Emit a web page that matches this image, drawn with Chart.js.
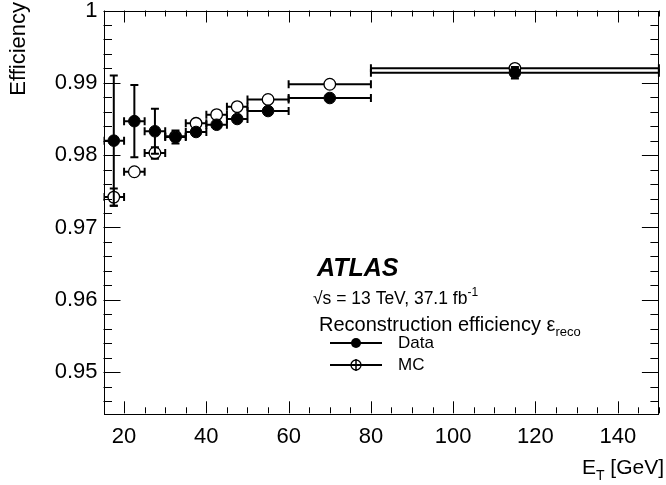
<!DOCTYPE html>
<html>
<head>
<meta charset="utf-8">
<script src="https://cdn.jsdelivr.net/npm/chart.js@4.4.1/dist/chart.umd.min.js"></script>
<style>
  html, body { margin: 0; padding: 0; background: #fff; }
  #wrap { width: 666px; height: 485px; position: relative; }
</style>
</head>
<body>
<div id="wrap"><canvas id="c" width="666" height="485"></canvas></div>
<script>
// ---- data ----
const binLow   = [15, 20, 25, 30, 35, 40, 45, 50, 60, 80];
const binHigh  = [20, 25, 30, 35, 40, 45, 50, 60, 80, 150];
const binCenter = [17.5, 22.5, 27.5, 32.5, 37.5, 42.5, 47.5, 55, 70, 115];
const dataEff  = [0.9820, 0.9847, 0.9833, 0.9825, 0.9832, 0.9842, 0.9850, 0.9861, 0.9879, 0.9914];
const dataErr  = [0.0090, 0.0050, 0.0031, 0.0009, 0.0005, 0.0005, 0.0005, 0.0005, 0.0005, 0.0008];
const mcEff    = [0.9742, 0.9777, 0.9803, 0.9826, 0.9844, 0.9856, 0.9867, 0.9877, 0.9898, 0.9920];
const mcErr    = [0.0012, 0.0003, 0.0008, 0.0003, 0.0002, 0.0002, 0.0002, 0.0002, 0.0002, 0.0004];
const yTickValues = [0.95, 0.96, 0.97, 0.98, 0.99, 1.0];
const xTickValues = [20, 40, 60, 80, 100, 120, 140];
const yMin = 0.9443, yMax = 1.0, xMin = 15, xMax = 150;

const FONT = "'Liberation Sans', Arial, Helvetica, sans-serif";

const toPoints = (ys) => binCenter.map((x, i) => ({ x: x, y: ys[i] }));

const errorBarPlugin = {
  id: 'errbars',
  beforeDatasetsDraw(chart) {
    const ctx = chart.ctx, xs = chart.scales.x, ys = chart.scales.y, a = chart.chartArea;
    ctx.save();
    ctx.beginPath();
    ctx.rect(a.left, a.top - 1, a.right - a.left + 2, a.bottom - a.top + 2);
    ctx.clip();
    ctx.strokeStyle = '#000';
    ctx.lineWidth = 2;
    const sets = [
      { eff: mcEff, err: mcErr, r: 5.5 },
      { eff: dataEff, err: dataErr, r: 5.5 }
    ];
    sets.forEach(s => {
      binCenter.forEach((c, i) => {
        const px = xs.getPixelForValue(c);
        const py = ys.getPixelForValue(s.eff[i]);
        const xl = xs.getPixelForValue(binLow[i]);
        const xh = xs.getPixelForValue(binHigh[i]);
        const yu = ys.getPixelForValue(s.eff[i] + s.err[i]);
        const yd = ys.getPixelForValue(s.eff[i] - s.err[i]);
        ctx.beginPath();
        ctx.moveTo(xl, py); ctx.lineTo(px - s.r, py);
        ctx.moveTo(px + s.r, py); ctx.lineTo(xh, py);
        ctx.moveTo(xl, py - 4); ctx.lineTo(xl, py + 4);
        ctx.moveTo(xh, py - 4); ctx.lineTo(xh, py + 4);
        ctx.stroke();
        if (py - yu > s.r) {
          ctx.beginPath();
          ctx.moveTo(px, py - s.r); ctx.lineTo(px, yu);
          ctx.moveTo(px, py + s.r); ctx.lineTo(px, yd);
          ctx.moveTo(px - 4, yu); ctx.lineTo(px + 4, yu);
          ctx.moveTo(px - 4, yd); ctx.lineTo(px + 4, yd);
          ctx.stroke();
        }
      });
    });
    ctx.restore();
  }
};

const framePlugin = {
  id: 'frame',
  afterDraw(chart) {
    const ctx = chart.ctx, xs = chart.scales.x, ys = chart.scales.y, a = chart.chartArea;
    ctx.save();
    ctx.strokeStyle = '#000';
    ctx.lineWidth = 1;
    ctx.strokeRect(Math.round(a.left) + 0.5, Math.round(a.top) + 0.5,
                   Math.round(a.right - a.left) - 1, Math.round(a.bottom - a.top));
    ctx.beginPath();
    for (let v = 15; v <= 150; v += 5) {
      const p = Math.round(xs.getPixelForValue(v)) + 0.5;
      const major = (v % 20 === 0);
      const len = major ? 12 : 6;
      ctx.moveTo(p, a.bottom); ctx.lineTo(p, a.bottom - len);
      ctx.moveTo(p, a.top); ctx.lineTo(p, a.top + len);
    }
    for (let k = 0; k <= 28; k++) {
      const v = 0.944 + k * 0.002;
      if (v < yMin - 1e-9 || v > yMax + 1e-9) continue;
      const p = Math.round(ys.getPixelForValue(v)) + 0.5;
      const major = (k % 5 === 3);
      const len = major ? 17 : 8.5;
      ctx.moveTo(a.left, p); ctx.lineTo(a.left + len, p);
      ctx.moveTo(a.right, p); ctx.lineTo(a.right - len, p);
    }
    ctx.stroke();

    ctx.fillStyle = '#000';
    ctx.font = '22px ' + FONT;
    ctx.save();
    ctx.translate(25, 2);
    ctx.rotate(-Math.PI / 2);
    ctx.textAlign = 'right';
    ctx.textBaseline = 'alphabetic';
    ctx.fillText('Efficiency', 0, 0);
    ctx.restore();

    ctx.textBaseline = 'alphabetic';
    ctx.textAlign = 'left';
    const rest = ' [GeV]';
    ctx.font = '21px ' + FONT;
    const wE = ctx.measureText('E').width;
    const wRest = ctx.measureText(rest).width;
    ctx.font = '14px ' + FONT;
    const wT = ctx.measureText('T').width;
    let x0 = 664 - wE - wT - wRest;
    const yb = 474;
    ctx.font = '21px ' + FONT;
    ctx.fillText('E', x0, yb);
    ctx.font = '14px ' + FONT;
    ctx.fillText('T', x0 + wE, yb + 6);
    ctx.font = '21px ' + FONT;
    ctx.fillText(rest, x0 + wE + wT, yb);

    ctx.font = 'italic bold 25px ' + FONT;
    ctx.fillText('ATLAS', 317, 276);

    ctx.font = '17.5px ' + FONT;
    const s1 = '\u221As = 13 TeV, 37.1 fb';
    ctx.fillText(s1, 313, 304);
    const w1 = ctx.measureText(s1).width;
    ctx.font = '12px ' + FONT;
    ctx.fillText('-1', 313 + w1, 296);

    ctx.font = '20px ' + FONT;
    const s2 = 'Reconstruction efficiency \u03B5';
    ctx.fillText(s2, 319, 331);
    const w2 = ctx.measureText(s2).width;
    ctx.font = '13px ' + FONT;
    ctx.fillText('reco', 319 + w2, 336);

    const legY = [343, 365];
    ctx.lineWidth = 2;
    legY.forEach((ly, i) => {
      ctx.beginPath();
      ctx.moveTo(330, ly); ctx.lineTo(382, ly);
      ctx.stroke();
      ctx.beginPath();
      ctx.arc(356, ly, 5, 0, Math.PI * 2);
      if (i === 0) { ctx.fill(); }
      else {
        ctx.fillStyle = '#fff'; ctx.fill(); ctx.fillStyle = '#000';
        ctx.lineWidth = 1.3; ctx.stroke(); ctx.lineWidth = 2;
        ctx.beginPath();
        ctx.moveTo(356, ly - 6); ctx.lineTo(356, ly + 6);
        ctx.lineWidth = 1.5; ctx.stroke(); ctx.lineWidth = 2;
        ctx.beginPath();
        ctx.moveTo(350, ly); ctx.lineTo(362, ly);
        ctx.stroke();
      }
    });
    ctx.font = '17px ' + FONT;
    ctx.textBaseline = 'middle';
    ctx.fillText('Data', 398, legY[0]);
    ctx.fillText('MC', 398, legY[1]);
    ctx.restore();
  }
};

new Chart(document.getElementById('c'), {
  type: 'scatter',
  data: {
    datasets: [
      {
        label: 'MC',
        data: toPoints(mcEff),
        pointRadius: 5.8,
        pointHoverRadius: 5.8,
        pointBackgroundColor: 'rgba(255,255,255,0)',
        pointBorderColor: '#000',
        pointBorderWidth: 1.3,
        showLine: false
      },
      {
        label: 'Data',
        data: toPoints(dataEff),
        pointRadius: 5.8,
        pointHoverRadius: 5.8,
        pointBackgroundColor: '#000',
        pointBorderColor: '#000',
        pointBorderWidth: 1,
        showLine: false
      }
    ]
  },
  options: {
    responsive: false,
    animation: false,
    events: [],
    layout: { padding: { top: 10.5, right: 1, bottom: 0, left: 0 } },
    plugins: { legend: { display: false }, tooltip: { enabled: false } },
    scales: {
      x: {
        type: 'linear', min: xMin, max: xMax,
        grid: { display: false, drawTicks: false },
        border: { display: false },
        afterBuildTicks: (s) => { s.ticks = xTickValues.map(v => ({ value: v })); },
        afterFit: (s) => { s.height = 71.7; s.paddingLeft = 0; s.paddingRight = 0; },
        ticks: {
          autoSkip: false, maxRotation: 0, padding: 10,
          color: '#000', font: { family: FONT, size: 22 },
          callback: (v) => String(v)
        }
      },
      y: {
        type: 'linear', min: yMin, max: yMax,
        grid: { display: false, drawTicks: false },
        border: { display: false },
        afterBuildTicks: (s) => { s.ticks = yTickValues.map(v => ({ value: v })); },
        afterFit: (s) => { s.width = 103.5; s.paddingTop = 0; s.paddingBottom = 0; },
        ticks: {
          autoSkip: false, padding: 6,
          color: '#000', font: { family: FONT, size: 22 },
          callback: (v) => (Math.abs(v - 1) < 1e-9 ? '1' : v.toFixed(2))
        }
      }
    }
  },
  plugins: [errorBarPlugin, framePlugin]
});
</script>
</body>
</html>
